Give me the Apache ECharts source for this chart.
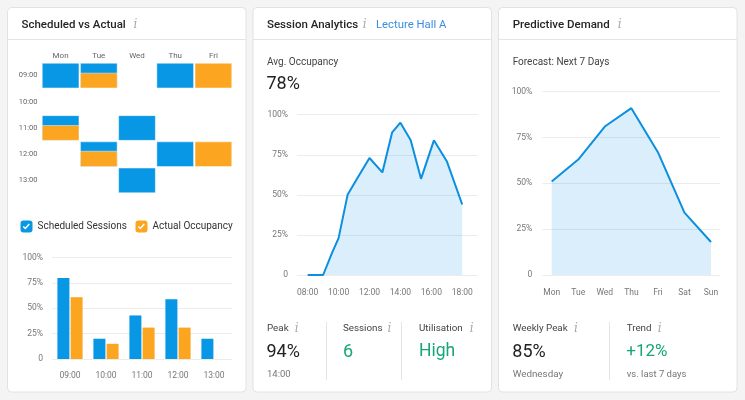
<!DOCTYPE html>
<html>
<head>
<meta charset="utf-8">
<script src="https://cdn.jsdelivr.net/npm/echarts@6/dist/echarts.min.js"></script>
<style>
  html, body { margin: 0; padding: 0; background: #f4f4f4; }
  #main { width: 745px; height: 400px; }
</style>
</head>
<body>
<div id="main"></div>
<script>
// schedule grid
var days = ['Mon', 'Tue', 'Wed', 'Thu', 'Fri'];
var slots = ['09:00', '10:00', '11:00', '12:00', '13:00'];
// [day index, slot index]
var scheduledCells = [[0, 0], [1, 0], [3, 0], [0, 2], [2, 2], [1, 3], [3, 3], [2, 4]];
// [day index, slot index, share of the cell filled]
var actualCells = [[1, 0, 0.6], [4, 0, 1], [0, 2, 0.6], [1, 3, 0.62], [4, 3, 1]];

// hourly bars
var scheduledSessions = [80, 20, 43, 59, 20];
var actualOccupancy = [61, 15, 31, 31, 0];

// session analytics, lecture hall A
var occTimes = ['08:00', '09:00', '09:35', '10:00', '10:35', '11:15', '12:00', '12:50', '13:28', '14:00', '14:40', '15:20', '16:10', '17:00', '18:00'];
var occValues = [0, 0, 14, 23, 50, 61, 73, 64, 89, 95, 84, 60, 84, 71, 44];
var hourTicks = ['08:00', '10:00', '12:00', '14:00', '16:00', '18:00'];

// predictive demand
var forecastDays = ['Mon', 'Tue', 'Wed', 'Thu', 'Fri', 'Sat', 'Sun'];
var forecast = [51, 63, 81, 91, 67, 34, 18];

var BLUE = '#0797e5';
var ORANGE = '#fca521';
var LINE = '#0b8fe0';
var GREEN = '#17a57a';
var FONT = "Roboto, 'Noto Sans', sans-serif";

function toHours(t) {
  var p = t.split(':');
  return +p[0] + (+p[1]) / 60;
}
function pct(v) { return v === 0 ? '0' : v + '%'; }

var chart = echarts.init(document.getElementById('main'), null, { renderer: 'canvas' });

// --- decorations: cards, titles, stats ---
var graphics = [];
[7.5, 253, 498.5].forEach(function (x) {
  graphics.push({
    type: 'rect', z: -10,
    shape: { x: x, y: 7.5, width: 238.5, height: 384.5, r: 4 },
    style: { fill: '#fff', stroke: '#e2e2e2', lineWidth: 1 }
  });
  graphics.push({
    type: 'line', z: -9,
    shape: { x1: x, y1: 39.5, x2: x + 238.5, y2: 39.5 },
    style: { stroke: '#e4e4e4', lineWidth: 1 }
  });
});

function txt(x, y, s, size, color, weight) {
  graphics.push({
    type: 'text', x: x, y: y, z: 10,
    style: {
      text: s, fontSize: size, fill: color, fontWeight: weight || 'normal',
      fontFamily: FONT, verticalAlign: 'middle'
    }
  });
}
function info(x, y) {
  graphics.push({
    type: 'text', x: x, y: y, z: 10,
    style: {
      text: 'i', fontSize: 12, fill: '#a8a8a8', fontStyle: 'italic',
      fontFamily: "'DejaVu Serif', serif", align: 'center', verticalAlign: 'middle'
    }
  });
}
function vline(x, y1, y2) {
  graphics.push({
    type: 'line', z: 5,
    shape: { x1: x, y1: y1, x2: x, y2: y2 },
    style: { stroke: '#e4e4e4', lineWidth: 1 }
  });
}

// headers
txt(21.5, 25, 'Scheduled vs Actual', 11.5, '#252525', 500);
info(135.5, 25);
txt(267, 25, 'Session Analytics', 11.5, '#252525', 500);
info(364.7, 25);
txt(376, 25, 'Lecture Hall A', 11.3, '#3b8de0');
txt(512.7, 25, 'Predictive Demand', 11.5, '#252525', 500);
info(619.7, 25);

// middle card
txt(267, 62, 'Avg. Occupancy', 10, '#444');
txt(266.5, 84, '78%', 18, '#222');
txt(267, 329, 'Peak', 9.8, '#444'); info(296.7, 329);
txt(266.5, 352, '94%', 18, '#222');
txt(267, 375, '14:00', 9.5, '#777');
vline(326.5, 322, 380);
txt(343, 329, 'Sessions', 9.8, '#444'); info(389.3, 329);
txt(343, 352, '6', 18, GREEN);
vline(401.5, 322, 380);
txt(419, 329, 'Utilisation', 9.8, '#444'); info(471.7, 329);
txt(419, 352, 'High', 17.5, GREEN);

// right card
txt(512.7, 62, 'Forecast: Next 7 Days', 10, '#444');
txt(512.7, 329, 'Weekly Peak', 9.8, '#444'); info(576, 329);
txt(512.3, 352, '85%', 18, '#222');
txt(512.7, 375, 'Wednesday', 9.8, '#777');
vline(609.5, 322, 380);
txt(626.7, 329, 'Trend', 9.8, '#444'); info(659.7, 329);
txt(626.3, 352, '+12%', 17, GREEN);
txt(626.7, 375, 'vs. last 7 days', 9.5, '#777');

// check marks inside the legend boxes
[26.3, 141.3].forEach(function (cx) {
  graphics.push({
    type: 'polyline', z: 20,
    shape: { points: [[cx - 3, 226.5], [cx - 1, 228.5], [cx + 3, 224]] },
    style: { stroke: '#fff', lineWidth: 1.5, fill: null }
  });
});

function cellRender(full) {
  return function (params, api) {
    var c = api.coord([api.value(0), api.value(1)]);
    var s = api.size([1, 1]);
    var w = s[0] - 1.5, h = s[1] - 1.5;
    var x = c[0] - s[0] / 2 + 0.75, y = c[1] - s[1] / 2 + 0.75;
    var share = full ? 1 : api.value(2);
    var hh = h * share;
    return {
      type: 'rect',
      shape: { x: x, y: y + h - hh, width: w, height: hh },
      style: { fill: api.visual('color'), stroke: 'rgba(255,255,255,0.45)', lineWidth: 1 }
    };
  };
}

var axisLabelStyle = { color: '#777', fontSize: 8.5, fontFamily: FONT };
var splitStyle = { show: true, lineStyle: { color: '#ececec', width: 1 } };
var pctAxis = function (gi, margin) {
  return {
    gridIndex: gi, type: 'value', min: 0, max: 100, interval: 25,
    axisLine: { show: false }, axisTick: { show: false },
    splitLine: splitStyle,
    axisLabel: Object.assign({ formatter: pct, margin: margin }, axisLabelStyle)
  };
};

var option = {
  animation: false,
  backgroundColor: '#f4f4f4',
  textStyle: { fontFamily: FONT },
  graphic: { elements: graphics },
  legend: [
    {
      data: ['Scheduled Sessions'], left: 20.5, top: 220.5, padding: 0,
      icon: 'roundRect', itemWidth: 12, itemHeight: 12,
      textStyle: { fontSize: 10, color: '#333', fontFamily: FONT }
    },
    {
      data: ['Actual Occupancy'], left: 135.5, top: 220.5, padding: 0,
      icon: 'roundRect', itemWidth: 12, itemHeight: 12,
      textStyle: { fontSize: 10, color: '#333', fontFamily: FONT }
    }
  ],
  grid: [
    { left: 41.5, top: 62.5, width: 191, height: 131 },
    { left: 52, top: 257.7, width: 180, height: 101.3 },
    { left: 297, top: 114.7, width: 181, height: 160.3 },
    { left: 542.3, top: 91.7, width: 177.7, height: 183.3 }
  ],
  xAxis: [
    {
      gridIndex: 0, type: 'category', data: days, position: 'top',
      axisLine: { show: false }, axisTick: { show: false }, splitLine: { show: false },
      axisLabel: { color: '#666', fontSize: 8, margin: 3, fontFamily: FONT }
    },
    {
      gridIndex: 1, type: 'category', data: slots,
      axisLine: { show: false }, axisTick: { show: false },
      axisLabel: Object.assign({ margin: 12 }, axisLabelStyle)
    },
    {
      gridIndex: 2, type: 'value', min: 7.31, max: 19.02,
      axisLine: { show: false }, axisTick: { show: false }, splitLine: { show: false },
      axisLabel: Object.assign({
        customValues: hourTicks.map(toHours),
        formatter: function (v) { return hourTicks[hourTicks.map(toHours).indexOf(v)]; },
        margin: 13
      }, axisLabelStyle)
    },
    {
      gridIndex: 3, type: 'value', min: -0.354, max: 6.339,
      axisLine: { show: false }, axisTick: { show: false }, splitLine: { show: false },
      axisLabel: Object.assign({
        customValues: forecastDays.map(function (d, i) { return i; }),
        formatter: function (v) { return forecastDays[v]; },
        margin: 13
      }, axisLabelStyle)
    }
  ],
  yAxis: [
    {
      gridIndex: 0, type: 'category', data: slots, inverse: true,
      axisLine: { show: false }, axisTick: { show: false }, splitLine: { show: false },
      axisLabel: { color: '#666', fontSize: 7.5, margin: 4, fontFamily: FONT }
    },
    pctAxis(1, 9),
    pctAxis(2, 9),
    pctAxis(3, 10)
  ],
  series: [
    {
      name: 'Scheduled Sessions', type: 'custom', xAxisIndex: 0, yAxisIndex: 0,
      itemStyle: { color: BLUE }, renderItem: cellRender(true),
      data: scheduledCells
    },
    {
      name: 'Actual Occupancy', type: 'custom', xAxisIndex: 0, yAxisIndex: 0,
      itemStyle: { color: ORANGE }, renderItem: cellRender(false),
      data: actualCells, z: 3
    },
    {
      name: 'Scheduled Sessions', type: 'bar', xAxisIndex: 1, yAxisIndex: 1,
      barWidth: 12, barGap: '10%', itemStyle: { color: BLUE },
      data: scheduledSessions
    },
    {
      name: 'Actual Occupancy', type: 'bar', xAxisIndex: 1, yAxisIndex: 1,
      barWidth: 12, barGap: '10%', itemStyle: { color: ORANGE },
      data: actualOccupancy
    },
    {
      name: 'Occupancy', type: 'line', xAxisIndex: 2, yAxisIndex: 2,
      showSymbol: false, lineStyle: { color: LINE, width: 2 },
      itemStyle: { color: LINE },
      areaStyle: { color: 'rgba(10,148,230,0.21)', origin: 'start' },
      data: occTimes.map(function (t, i) { return [toHours(t), occValues[i]]; })
    },
    {
      name: 'Forecast', type: 'line', xAxisIndex: 3, yAxisIndex: 3,
      showSymbol: false, lineStyle: { color: LINE, width: 2 },
      itemStyle: { color: LINE },
      areaStyle: { color: 'rgba(10,148,230,0.21)', origin: 'start' },
      data: forecast.map(function (v, i) { return [i, v]; })
    }
  ]
};

chart.setOption(option);
</script>
</body>
</html>
